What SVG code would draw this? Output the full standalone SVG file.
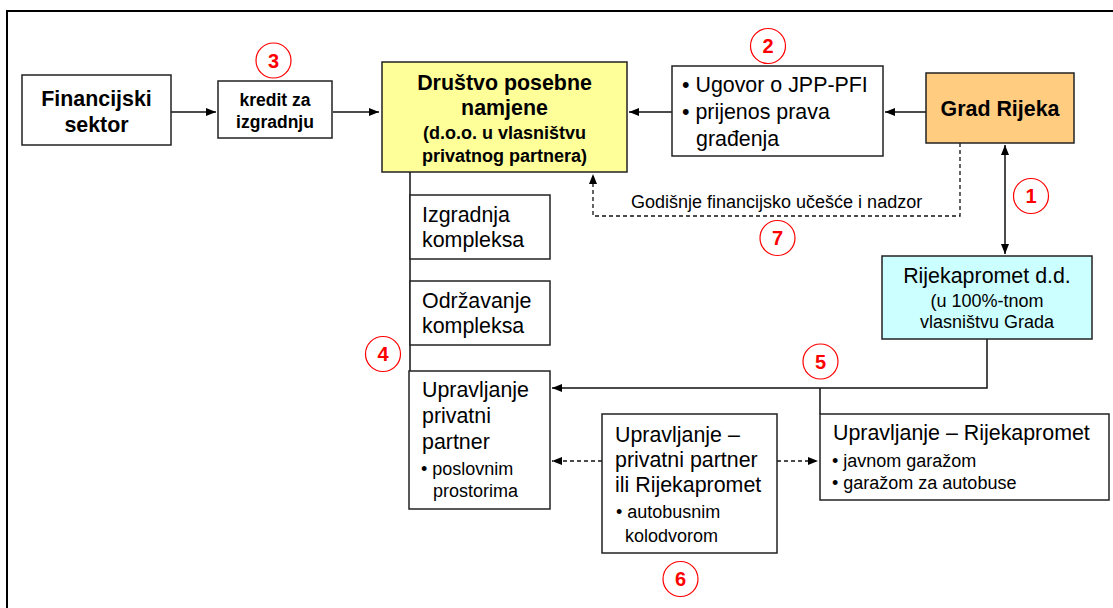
<svg xmlns="http://www.w3.org/2000/svg" width="1113" height="608" viewBox="0 0 1113 608">
<style>
text{font-family:"Liberation Sans",Arial,sans-serif;fill:#000}
.box{fill:#fff;stroke:#222;stroke-width:1.5}
.b{font-weight:bold}
.c{text-anchor:middle}
.f21{font-size:21.4px}
.f18{font-size:18px}
.f17{font-size:17.5px}
.ln{fill:none;stroke:#111;stroke-width:1.5}
.dash{fill:none;stroke:#111;stroke-width:1.3;stroke-dasharray:4,3}
.num circle{fill:#fff;stroke:#ff0000;stroke-width:1.2}
.num text{fill:#ff0000;font-weight:bold;font-size:20px;text-anchor:middle}
</style>
<defs>
<marker id="ah" markerUnits="userSpaceOnUse" markerWidth="11" markerHeight="9" refX="10" refY="4" orient="auto-start-reverse">
<path d="M0,0 L10,4 L0,8 z" fill="#000"/>
</marker>
</defs>
<rect width="1113" height="608" fill="#fff"/>
<path d="M7,608 L7,11 L1113,11" fill="none" stroke="#000" stroke-width="2"/>

<g id="connectors">
<line class="ln" x1="171" y1="112" x2="216" y2="112" marker-end="url(#ah)"/>
<line class="ln" x1="333" y1="112" x2="379" y2="112" marker-end="url(#ah)"/>
<line class="ln" x1="672" y1="112" x2="629" y2="112" marker-end="url(#ah)"/>
<line class="ln" x1="926" y1="112" x2="885" y2="112" marker-end="url(#ah)"/>
<line class="ln" x1="1005" y1="145" x2="1005" y2="254" marker-start="url(#ah)" marker-end="url(#ah)"/>
<path class="dash" d="M960,143 L960,216 L593,216 L593,174" marker-end="url(#ah)"/>
<line class="ln" x1="410" y1="172" x2="410" y2="371"/>
<path class="ln" d="M987,339 L987,388 L552,388" marker-end="url(#ah)"/>
<line class="ln" x1="820" y1="388" x2="820" y2="414"/>
<line class="dash" x1="602" y1="461" x2="552" y2="461" marker-end="url(#ah)"/>
<line class="dash" x1="777" y1="461" x2="818" y2="461" marker-end="url(#ah)"/>
</g>

<g id="financijski">
<rect class="box" x="22" y="75" width="149" height="70"/>
<text class="b c f21" x="96.5" y="106">Financijski</text>
<text class="b c f21" x="96.5" y="132">sektor</text>
</g>

<g id="kredit">
<rect class="box" x="218" y="81" width="114" height="57"/>
<text class="b c f17" x="275" y="106">kredit za</text>
<text class="b c f17" x="275" y="128">izgradnju</text>
</g>

<g id="drustvo">
<rect x="382" y="62" width="245" height="110" fill="#ffff99" stroke="#222" stroke-width="1.5"/>
<text class="b c f21" x="504.5" y="90">Društvo posebne</text>
<text class="b c f21" x="504.5" y="115">namjene</text>
<text class="b c f18" x="504.5" y="139">(d.o.o. u vlasništvu</text>
<text class="b c f18" x="504.5" y="162">privatnog partnera)</text>
</g>

<g id="ugovor">
<rect class="box" x="672" y="66" width="211" height="90"/>
<text class="f21" x="682" y="92">• Ugovor o JPP-PFI</text>
<text class="f21" x="682" y="119">• prijenos prava</text>
<text class="f21" x="696" y="146">građenja</text>
</g>

<g id="grad">
<rect x="926" y="73" width="148" height="70" fill="#ffcc80" stroke="#222" stroke-width="1.5"/>
<text class="b c f21" x="1000" y="116">Grad Rijeka</text>
</g>

<g id="label7">
<text class="f18" x="631" y="208">Godišnje financijsko učešće i nadzor</text>
</g>

<g id="rijekapromet">
<rect x="882" y="256" width="210" height="83" fill="#ccffff" stroke="#222" stroke-width="1.5"/>
<text class="c f21" x="987" y="283">Rijekapromet d.d.</text>
<text class="c f18" x="987" y="307">(u 100%-tnom</text>
<text class="c f18" x="987" y="328">vlasništvu Grada</text>
</g>

<g id="izgradnja">
<rect class="box" x="410" y="195" width="140" height="64"/>
<text class="f21" x="422" y="222">Izgradnja</text>
<text class="f21" x="422" y="247">kompleksa</text>
</g>

<g id="odrzavanje">
<rect class="box" x="410" y="281" width="140" height="64"/>
<text class="f21" x="422" y="308">Održavanje</text>
<text class="f21" x="422" y="333">kompleksa</text>
</g>

<g id="upravljanje-pp">
<rect class="box" x="409" y="371" width="141" height="138"/>
<text class="f21" x="422" y="397">Upravljanje</text>
<text class="f21" x="422" y="423">privatni</text>
<text class="f21" x="422" y="449">partner</text>
<text class="f18" x="421" y="475">• poslovnim</text>
<text class="f18" x="433" y="497">prostorima</text>
</g>

<g id="upravljanje-pp-rp">
<rect class="box" x="602" y="414" width="175" height="139"/>
<text class="f21" x="615" y="442">Upravljanje –</text>
<text class="f21" x="615" y="467">privatni partner</text>
<text class="f21" x="615" y="492">ili Rijekapromet</text>
<text class="f18" x="616" y="518">• autobusnim</text>
<text class="f18" x="625" y="542">kolodvorom</text>
</g>

<g id="upravljanje-rp">
<rect class="box" x="820" y="414" width="289" height="86"/>
<text class="f21" x="833" y="440">Upravljanje – Rijekapromet</text>
<text class="f18" x="832" y="467">• javnom garažom</text>
<text class="f18" x="832" y="489">• garažom za autobuse</text>
</g>

<g id="n1" class="num"><circle cx="1031" cy="196" r="17.5"/><text x="1031" y="203">1</text></g>
<g id="n2" class="num"><circle cx="768" cy="46" r="17.5"/><text x="768" y="53">2</text></g>
<g id="n3" class="num"><circle cx="273.5" cy="60.5" r="17.5"/><text x="273.5" y="67.5">3</text></g>
<g id="n4" class="num"><circle cx="383" cy="354" r="17.5"/><text x="383" y="361">4</text></g>
<g id="n5" class="num"><circle cx="820.5" cy="361.5" r="17.5"/><text x="820.5" y="368.5">5</text></g>
<g id="n6" class="num"><circle cx="680.5" cy="579" r="17.5"/><text x="680.5" y="586">6</text></g>
<g id="n7" class="num"><circle cx="777.5" cy="238" r="17.5"/><text x="777.5" y="245">7</text></g>
</svg>
